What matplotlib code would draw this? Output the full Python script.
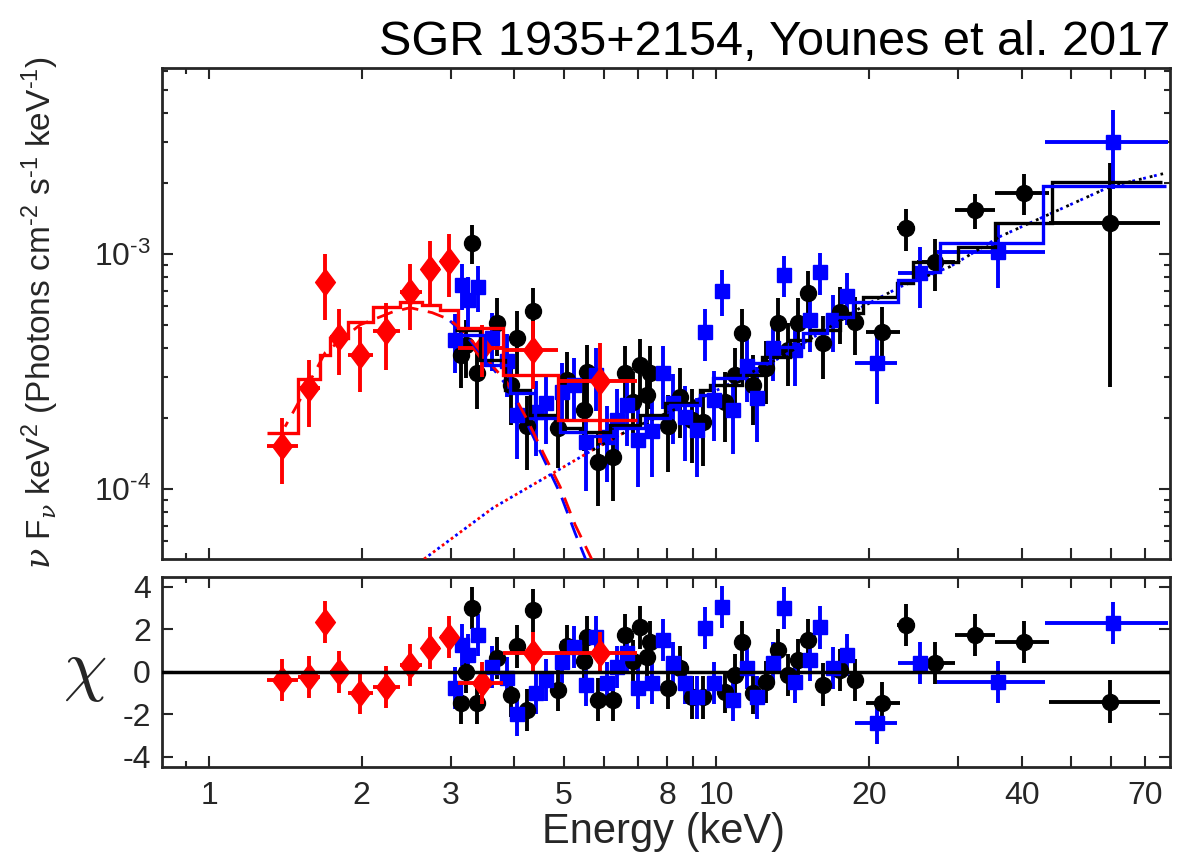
import numpy as np
import matplotlib
matplotlib.use('Agg')
import matplotlib.pyplot as plt
from matplotlib.path import Path
from matplotlib.ticker import FixedLocator, FixedFormatter, LogLocator, NullFormatter, FuncFormatter

plt.rcParams['font.family'] = ['Liberation Sans', 'DejaVu Sans']
plt.rcParams['mathtext.fontset'] = 'custom'
plt.rcParams['mathtext.rm'] = 'Liberation Sans'
plt.rcParams['mathtext.it'] = 'DejaVu Serif:italic'
plt.rcParams['mathtext.bf'] = 'Liberation Sans:bold'
plt.rcParams['axes.unicode_minus'] = False

# ---- red spectrum (soft band) ----
red_e = [1.393, 1.575, 1.694, 1.805, 1.986, 2.234, 2.491, 2.729, 2.975, 3.455, 4.356, 5.91]
red_f = [1.53e-4, 2.70e-4, 7.63e-4, 4.45e-4, 3.73e-4, 4.72e-4, 6.92e-4, 8.68e-4, 9.38e-4, 4.00e-4, 3.93e-4, 2.88e-4]
red_sig = [0.48e-4, 0.86e-4, 2.4e-4, 1.4e-4, 1.15e-4, 1.5e-4, 2.17e-4, 2.7e-4, 2.8e-4, 1.0e-4, 1.27e-4, 1.3e-4]
red_chi = [-0.38, -0.24, 2.35, 0.0, -1.0, -0.7, 0.33, 1.13, 1.65, -0.52, 0.89, 0.89]
red_edges = [1.301, 1.498, 1.655, 1.733, 1.880, 2.107, 2.380, 2.630, 2.855, 3.100, 3.800, 4.880, 6.980]
red_model = [1.739e-4, 2.953e-4, 3.735e-4, 4.413e-4, 5.162e-4, 5.978e-4, 6.279e-4, 6.097e-4,
             5.805e-4, 4.866e-4, 3.071e-4, 1.975e-4]

# ---- black spectrum ----
black_e = [3.141, 3.213, 3.302, 3.378, 3.698, 3.942, 4.051, 4.239, 4.356, 4.880, 5.084, 5.493, 5.567, 5.851,
           6.264, 6.616, 6.861, 7.083, 7.310, 7.411, 8.046, 8.491, 8.968, 9.428, 10.42, 10.90, 11.25, 11.83,
           12.55, 13.25, 13.87, 14.51, 15.19, 16.26, 17.57, 18.80, 21.25, 23.71, 27.04, 32.43, 40.5, 59.85]
black_f = [3.73e-4, 4.12e-4, 1.119e-3, 3.13e-4, 5.11e-4, 2.79e-4, 4.41e-4, 1.85e-4, 5.75e-4, 1.83e-4, 2.92e-4,
           2.18e-4, 3.16e-4, 1.30e-4, 1.37e-4, 3.13e-4, 2.36e-4, 3.39e-4, 2.52e-4, 3.13e-4, 1.85e-4, 2.47e-4,
           1.98e-4, 1.94e-4, 2.36e-4, 3.07e-4, 4.63e-4, 2.79e-4, 3.29e-4, 5.11e-4, 3.92e-4, 5.11e-4, 6.86e-4,
           4.20e-4, 5.69e-4, 5.16e-4, 4.68e-4, 1.296e-3, 9.29e-4, 1.546e-3, 1.827e-3, 1.361e-3]
black_rel = [0.28, 0.28, 0.19, 0.30, 0.28, 0.33, 0.30, 0.35, 0.25, 0.33, 0.32, 0.33, 0.30, 0.35,
             0.35, 0.30, 0.33, 0.28, 0.33, 0.30, 0.36, 0.33, 0.35, 0.35, 0.33, 0.30, 0.26, 0.33,
             0.30, 0.27, 0.30, 0.27, 0.24, 0.30, 0.27, 0.28, 0.27, 0.20, 0.25, 0.17, 0.20, 0.80]
black_chi = [-1.46, 0.0, 3.0, -1.46, 0.66, -1.1, 1.2, -1.8, 2.9, -0.85, 1.2, 0.5, 1.65, -1.3,
             -1.3, 1.74, 0.5, 2.1, 0.7, 1.4, -0.75, 0.2, -1.2, -1.2, -0.94, -0.14, 1.4, -1.0,
             -0.47, 1.04, -0.14, 0.56, 1.5, -0.6, 0.09, -0.38, -1.46, 2.2, 0.42, 1.74, 1.4, -1.4]
black_bin_lo = [19.76, 22.75, 24.91, 29.61, 35.51, 45.2]   # last six points
black_bin_hi = [23.07, 24.69, 29.61, 35.51, 45.2, 75.1]
black_edges = [3.056, 3.424, 3.836, 4.297, 4.814, 5.394, 6.180, 7.083, 7.935, 9.299, 9.732, 11.25, 12.32,
               14.00, 15.33, 17.57, 19.50, 22.75, 24.47, 30.01, 35.51, 46.0, 75.8]
black_model = [4.77e-4, 3.56e-4, 2.65e-4, 2.07e-4, 1.83e-4, 1.76e-4, 1.88e-4, 2.07e-4, 2.33e-4, 2.65e-4,
               2.79e-4, 3.07e-4, 3.66e-4, 4.33e-4, 4.77e-4, 5.64e-4, 6.59e-4, 7.57e-4, 9.29e-4, 1.077e-3,
               1.361e-3, 2.03e-3]

# ---- blue spectrum ----
blue_e = [3.056, 3.155, 3.243, 3.393, 3.616, 3.871, 4.051, 4.416, 4.620, 4.970, 5.248, 5.541, 5.799,
          6.095, 6.378, 6.677, 7.019, 7.479, 7.866, 8.228, 8.688, 9.174, 9.513, 9.91, 10.28, 10.80,
          11.51, 12.04, 12.95, 13.62, 14.32, 15.33, 16.04, 17.02, 18.13, 20.78, 25.26, 35.99, 60.67]
blue_f = [4.33e-4, 7.42e-4, 6.40e-4, 7.27e-4, 4.41e-4, 3.52e-4, 2.07e-4, 2.14e-4, 2.33e-4, 2.60e-4,
          2.79e-4, 1.59e-4, 3.07e-4, 1.67e-4, 1.98e-4, 2.29e-4, 1.62e-4, 1.77e-4, 3.13e-4, 2.33e-4,
          2.03e-4, 1.79e-4, 4.68e-4, 2.40e-4, 7.0e-4, 2.18e-4, 3.36e-4, 2.45e-4, 4.00e-4, 8.18e-4,
          3.92e-4, 5.26e-4, 8.42e-4, 5.26e-4, 6.65e-4, 3.45e-4, 8.34e-4, 1.025e-3, 3.01e-3]
blue_rel = [0.28, 0.22, 0.25, 0.22, 0.28, 0.30, 0.35, 0.35, 0.33, 0.32, 0.30, 0.38, 0.30,
            0.36, 0.35, 0.33, 0.37, 0.36, 0.30, 0.33, 0.35, 0.37, 0.25, 0.33, 0.22, 0.35,
            0.30, 0.35, 0.28, 0.20, 0.30, 0.27, 0.20, 0.27, 0.25, 0.33, 0.29, 0.30, 0.37]
blue_chi = [-0.75, 1.27, 0.8, 1.74, 0.24, -0.28, -2.0, -1.0, -0.38, 0.47, 1.18, -0.6, 1.65,
            -0.52, 0.24, 0.9, -0.75, -0.52, 1.5, 0.4, -0.52, -1.2, 2.07, -0.52, 3.06, -1.3,
            0.19, -1.2, 0.42, 3.0, -0.47, 0.56, 2.1, 0.19, 0.8, -2.4, 0.42, -0.47, 2.3]
blue_bin_lo = [18.80, 22.86, 27.29, 44.57]   # last four points
blue_bin_hi = [22.75, 26.67, 44.57, 77.9]
blue_edges = [3.056, 3.503, 3.924, 4.396, 4.925, 5.516, 6.322, 7.244, 8.119, 9.299, 9.865, 11.31, 12.78,
              14.84, 16.55, 18.63, 22.86, 25.03, 27.66, 44.16, 76.86]
blue_model = [4.54e-4, 3.39e-4, 2.57e-4, 2.01e-4, 1.76e-4, 1.69e-4, 1.83e-4, 2.01e-4, 2.29e-4, 2.52e-4,
              2.98e-4, 3.45e-4, 4.04e-4, 4.63e-4, 5.42e-4, 6.28e-4, 7.79e-4, 8.42e-4, 1.119e-3, 1.956e-3]

# ---- model components ----
red_bb_e = [1.412, 1.512, 1.694, 1.986, 2.306, 2.491, 2.754, 2.987, 3.228, 3.633, 3.871, 4.239, 4.558, 4.923, 5.27, 5.69]
red_bb_f = [1.845e-4, 2.405e-4, 3.81e-4, 5.01e-4, 5.69e-4, 5.92e-4, 5.64e-4, 5.26e-4, 4.54e-4, 3.32e-4,
            2.84e-4, 1.977e-4, 1.43e-4, 1.025e-4, 7.06e-5, 5.01e-5]
blue_bb_e = [2.987, 3.228, 3.633, 3.871, 4.239, 4.558, 4.923, 5.27, 5.6]
blue_bb_f = [5.2e-4, 4.45e-4, 3.25e-4, 2.75e-4, 1.9e-4, 1.36e-4, 9.6e-5, 6.5e-5, 4.7e-5]
pl_e = [2.655, 3.633, 4.923, 5.71, 6.77, 9.73, 13.6, 19.2, 23.1, 28.9, 36.3, 59.8, 76.0]
pl_f = [5.05e-5, 8.34e-5, 1.22e-4, 1.47e-4, 1.8e-4, 2.55e-4, 3.7e-4, 5.9e-4, 7.28e-4, 8.85e-4, 1.19e-3, 1.94e-3, 2.2e-3]

xticks = [1, 2, 3, 4, 5, 6, 7, 8, 9, 10, 20, 30, 40, 50, 60, 70]
xticklabels = ['1', '2', '3', '', '5', '', '', '8', '', '10', '20', '', '40', '', '', '70']

TXT = '#262626'
HY = '\u2010'   # short hyphen, as in the original labels
diamond = Path([(0, 1), (0.75, 0), (0, -1), (-0.75, 0), (0, 1)],
               [Path.MOVETO, Path.LINETO, Path.LINETO, Path.LINETO, Path.CLOSEPOLY])


def xerr_of(e, lo_list, hi_list):
    e = np.asarray(e)
    lo = np.zeros(len(e))
    hi = np.zeros(len(e))
    n = len(lo_list)
    lo[-n:] = e[-n:] - np.asarray(lo_list)
    hi[-n:] = np.asarray(hi_list) - e[-n:]
    return [lo, hi]


red_e_a = np.array(red_e)
red_xerr = [red_e_a - np.array(red_edges[:-1]), np.array(red_edges[1:]) - red_e_a]
black_xerr = xerr_of(black_e, black_bin_lo, black_bin_hi)
blue_xerr = xerr_of(blue_e, blue_bin_lo, blue_bin_hi)

fig = plt.figure(figsize=(12.03, 8.58), dpi=100)
ax = fig.add_axes([0.1347, 0.3485, 0.838, 0.5723])
axr = fig.add_axes([0.1347, 0.1061, 0.838, 0.2214])

# top panel
ax.errorbar(black_e, black_f, yerr=np.array(black_f) * np.array(black_rel), xerr=black_xerr,
            fmt='o', color='k', ms=11.5, elinewidth=2.8, capsize=0, zorder=3)
ax.errorbar(blue_e, blue_f, yerr=np.array(blue_f) * np.array(blue_rel), xerr=blue_xerr,
            fmt='s', color='#0000ff', ms=10.5, elinewidth=2.8, capsize=0, zorder=3)
ax.errorbar(red_e, red_f, yerr=red_sig, xerr=red_xerr, fmt='none', ecolor='#ff0000',
            elinewidth=2.8, capsize=0, zorder=4)
ax.plot(red_e, red_f, ls='none', marker=diamond, color='#ff0000', ms=19, zorder=4)

pl_e_a = np.array(pl_e)
ax.plot(pl_e_a[pl_e_a < 7], np.array(pl_f)[pl_e_a < 7], color='#ff0000', lw=2.0, ls=(0, (1, 3)), zorder=5)
ax.plot(pl_e, pl_f, color='#0000ff', lw=2.0, ls=(2, (1, 3)), zorder=5)
ax.plot(pl_e_a[pl_e_a > 5.5], np.array(pl_f)[pl_e_a > 5.5], color='k', lw=2.0, ls=(0, (1, 3)), zorder=5)
ax.plot(blue_bb_e, blue_bb_f, color='#0000ff', lw=2.0, ls=(0, (6, 3.5)), zorder=5)
ax.plot(red_bb_e, red_bb_f, color='#ff0000', lw=2.0, ls=(4, (6, 3.5)), zorder=5)

ax.stairs(black_model, black_edges, baseline=None, color='k', lw=2.4, zorder=6)
ax.stairs(blue_model, blue_edges, baseline=None, color='#0000ff', lw=2.4, zorder=6)
ax.stairs(red_model, red_edges, baseline=None, color='#ff0000', lw=2.4, zorder=6)

ax.set_yscale('log')
ax.set_ylim(5.05e-5, 6.2e-3)
ax.yaxis.set_major_locator(LogLocator(base=10))
ax.yaxis.set_minor_locator(LogLocator(base=10, subs=np.arange(2, 10)))
ax.yaxis.set_minor_formatter(NullFormatter())
ax.yaxis.set_major_formatter(FuncFormatter(lambda v, p: r'$10^{%s%d}$' % (HY, round(-np.log10(v)))))

# residual panel
axr.errorbar(black_e, black_chi, yerr=1, xerr=black_xerr, fmt='o', color='k', ms=11.5,
             elinewidth=2.8, capsize=0, zorder=3)
axr.errorbar(blue_e, blue_chi, yerr=1, xerr=blue_xerr, fmt='s', color='#0000ff', ms=10.5,
             elinewidth=2.8, capsize=0, zorder=3)
axr.errorbar(red_e, red_chi, yerr=1, xerr=red_xerr, fmt='none', ecolor='#ff0000',
             elinewidth=2.8, capsize=0, zorder=4)
axr.plot(red_e, red_chi, ls='none', marker=diamond, color='#ff0000', ms=19, zorder=4)
axr.axhline(0, color='k', lw=2.5, zorder=6)
axr.set_ylim(-4.47, 4.47)
axr.set_yticks([-4, -2, 0, 2, 4])

for a in (ax, axr):
    a.set_xscale('log')
    a.set_xlim(0.808, 78.5)
    a.xaxis.set_major_locator(FixedLocator(xticks))
    a.xaxis.set_minor_locator(FixedLocator([0.9]))
    a.xaxis.set_minor_formatter(NullFormatter())
    a.tick_params(which='both', direction='in', top=True, right=True, width=1.5,
                  color=TXT, labelsize=23, labelcolor=TXT)
    a.tick_params(which='major', length=8, pad=8)
    a.tick_params(which='minor', length=4.5)
    for s in a.spines.values():
        s.set_linewidth(2)
        s.set_color(TXT)
ax.xaxis.set_major_formatter(NullFormatter())
axr.xaxis.set_major_formatter(FixedFormatter(xticklabels))
axr.tick_params(axis='x', pad=10)

fig.text(1170 / 1203, 1 - 55 / 858, 'SGR 1935+2154, Younes et al. 2017', ha='right', va='baseline',
         fontsize=35, color='k')
fig.text(664 / 1203, 1 - 832 / 858, 'Energy (keV)', ha='center', va='center', fontsize=30, color=TXT)
fig.text(40 / 1203, 1 - 313 / 858,
         r'$\nu$ F$_{\nu}$ keV$^2$ (Photons cm$^{%s2}$ s$^{%s1}$ keV$^{%s1}$)' % (HY, HY, HY),
         rotation=90, ha='center', va='center', fontsize=24, color=TXT)
fig.text(85 / 1203, 1 - 672 / 858, r'$\chi$', math_fontfamily='cm', ha='center', va='center',
         fontsize=50, color=TXT)

fig.savefig('out.png', dpi=100)
